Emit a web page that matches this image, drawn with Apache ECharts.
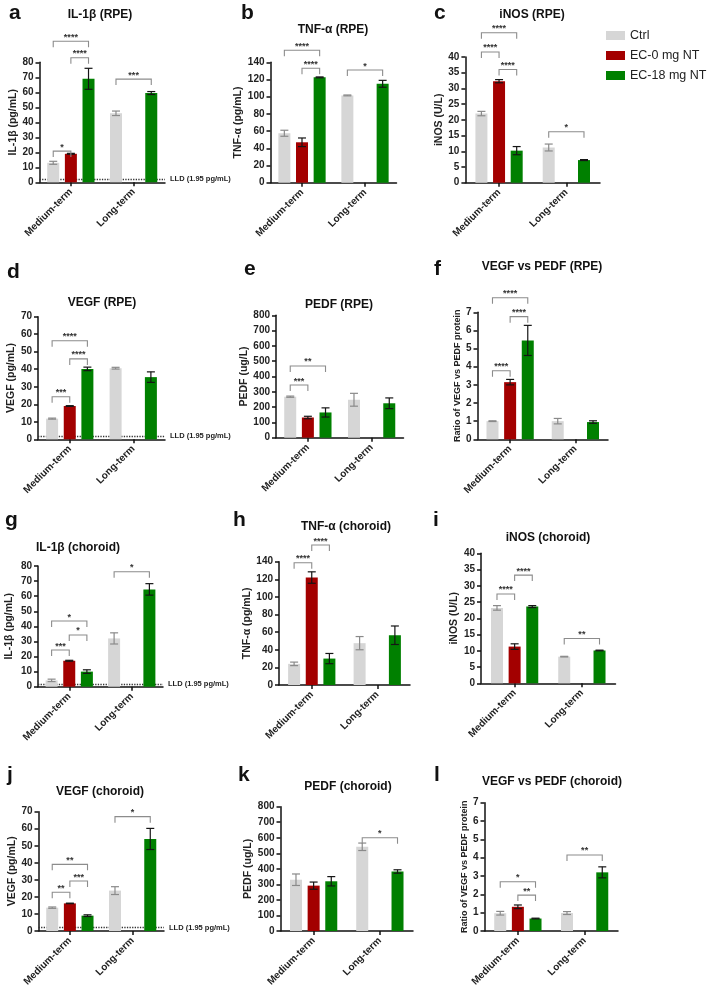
<!DOCTYPE html>
<html><head><meta charset="utf-8">
<script src="https://cdn.jsdelivr.net/npm/echarts@6/dist/echarts.min.js"></script>
<style>html,body{margin:0;padding:0;background:#fff}#c{width:709px;height:991px}</style>
</head><body><div id="c"></div>
<script>
const categories = ['Medium-term', 'Long-term'];
const groups = ['Ctrl', 'EC-0 mg NT', 'EC-18 mg NT'];
const lldValue = 1.95;
const lldLabel = 'LLD (1.95 pg/mL)';

const panelLetters = ['a','b','c','d','e','f','g','h','i','j','k','l'];
const panelTitles = ['IL-1β (RPE)','TNF-α (RPE)','iNOS (RPE)','VEGF (RPE)','PEDF (RPE)','VEGF vs PEDF (RPE)',
  'IL-1β (choroid)','TNF-α (choroid)','iNOS (choroid)','VEGF (choroid)','PEDF (choroid)','VEGF vs PEDF (choroid)'];
const yNames = ['IL-1β (pg/mL)','TNF-α (pg/mL)','iNOS (U/L)','VEGF (pg/mL)','PEDF (ug/L)','Ratio of VEGF vs PEDF protein',
  'IL-1β (pg/mL)','TNF-α (pg/mL)','iNOS (U/L)','VEGF (pg/mL)','PEDF (ug/L)','Ratio of VEGF vs PEDF protein'];
const yMax = [80, 140, 40, 70, 800, 7, 80, 140, 40, 70, 800, 7];
const yInterval = [10, 20, 5, 10, 100, 1, 10, 20, 5, 10, 100, 1];
const hasLLD = [true, false, false, true, false, false, true, false, false, true, false, false];

// means: [Ctrl, EC-0, EC-18] each [Medium, Long]
const aMean = [[13, 46], [19, null], [69, 59.5]];
const aErr  = [[1, 1.5], [0.3, null], [7, 1]];
const aSig  = [[0,0,2,94,'****'],[0,1,2,83,'****'],[0,0,1,20.8,'*'],[1,0,2,68.8,'***']];

const bMean = [[57.5, 101.5], [47, null], [122.5, 115]];
const bErr  = [[3.5, 0.5], [5, null], [0.5, 4]];
const bSig  = [[0,0,2,154,'****'],[0,1,2,133,'****'],[1,0,2,131,'*']];

const cMean = [[22, 11.2], [32.3, null], [10.2, 7.2]];
const cErr  = [[0.7, 1.1], [0.5, null], [1.3, 0.15]];
const cSig  = [[0,0,2,47.7,'****'],[0,0,1,41.6,'****'],[0,1,2,36,'****'],[1,0,2,16.2,'*']];

const dMean = [[11.8, 40.6], [19, null], [40.2, 35.5]];
const dErr  = [[0.3, 0.5], [0.2, null], [1, 3]];
const dSig  = [[0,0,2,56.3,'****'],[0,1,2,45.9,'****'],[0,0,1,24.3,'***']];

const eMean = [[268, 248], [132, null], [165, 225]];
const eErr  = [[4, 42], [8, null], [30, 35]];
const eSig  = [[0,0,2,469,'**'],[0,0,1,344,'***']];

const fMean = [[1.0, 1.0], [3.15, null], [5.45, 0.95]];
const fErr  = [[0.02, 0.15], [0.15, null], [0.83, 0.07]];
const fSig  = [[0,0,2,7.8,'****'],[0,1,2,6.76,'****'],[0,0,1,3.78,'****']];

const gMean = [[4.2, 32], [17.2, null], [10, 64.5]];
const gErr  = [[0.8, 3.7], [0.3, null], [1.2, 3.8]];
const gSig  = [[0,0,2,43.5,'*'],[0,1,2,34.3,'*'],[0,0,1,24.3,'***'],[1,0,2,76.2,'*']];

const hMean = [[24, 47.5], [122, null], [30, 56.5]];
const hErr  = [[2, 7.5], [6.5, null], [5.8, 10.5]];
const hSig  = [[0,0,1,138.8,'****'],[0,1,2,158.9,'****']];

const iMean = [[23.2, 8.2], [11.3, null], [23.6, 10.1]];
const iErr  = [[0.7, 0.1], [0.85, null], [0.3, 0.1]];
const iSig  = [[0,0,1,27.5,'****'],[0,1,2,33.3,'****'],[1,0,2,13.8,'**']];

const jMean = [[13.7, 23.7], [16.2, null], [9, 54]];
const jErr  = [[0.4, 2.3], [0.15, null], [0.5, 6.2]];
const jSig  = [[0,0,2,39.1,'**'],[0,1,2,29.3,'***'],[0,0,1,22.7,'**'],[1,0,2,67.1,'*']];

const kMean = [[330, 542], [292, null], [320, 383]];
const kErr  = [[37, 24], [23, null], [30, 11]];
const kSig  = [[1,0,2,600,'*']];

const lMean = [[0.97, 0.98], [1.32, null], [0.68, 3.2]];
const lErr  = [[0.1, 0.08], [0.1, null], [0.02, 0.3]];
const lSig  = [[0,0,2,2.69,'*'],[0,1,2,1.96,'**'],[1,0,2,4.15,'**']];

const means = [aMean,bMean,cMean,dMean,eMean,fMean,gMean,hMean,iMean,jMean,kMean,lMean];
const errs  = [aErr,bErr,cErr,dErr,eErr,fErr,gErr,hErr,iErr,jErr,kErr,lErr];
const sigs  = [aSig,bSig,cSig,dSig,eSig,fSig,gSig,hSig,iSig,jSig,kSig,lSig];

// layout: grid [left, top, right, bottom(y of 0)], title center, letter pos, name gap, name font
const layout = [
  {g:[39.5,62.3,165,182.3],  t:[100,15],  l:[9,13],   gap:15,   nf:10.5},
  {g:[270.5,62.3,396.5,182.7], t:[333,30], l:[241,13], gap:23.5, nf:10.5},
  {g:[465.4,57,600,182.7],   t:[532,15],  l:[434,13], gap:18,   nf:10.5},
  {g:[38,316.7,165,439.3],   t:[102,303], l:[7,272],  gap:19,   nf:10.5},
  {g:[276,315.3,403.5,437.7], t:[339,305], l:[244,269], gap:23, nf:10.5},
  {g:[477.5,312.3,608,439.3], t:[542,267], l:[434,269], gap:12.5, nf:9},
  {g:[38,566,163,686.7],     t:[78,548],  l:[5,520],  gap:23,   nf:10.5},
  {g:[279,561.7,410,685],    t:[346,527], l:[233,520], gap:21,  nf:10.5},
  {g:[481,553.3,615.5,683.3], t:[548,538], l:[433,520], gap:19,  nf:10.5},
  {g:[38.5,811.7,164,931],   t:[100,792], l:[7,775],  gap:16.5, nf:10.5},
  {g:[280.5,806.7,413,931],  t:[348,787], l:[238,775], gap:20.5, nf:10.5},
  {g:[484.5,802.7,618,931],  t:[552,782], l:[434,775], gap:14.5, nf:9}
];

const colors = ['#d6d6d6', '#a30000', '#008000'];
const errColors = ['#8a8a8a', '#151515', '#151515'];
const FONT = '"Liberation Sans", Arial, sans-serif';
const BAR_W = 12, BAR_GAP = 0.47, STEP = BAR_W * (1 + BAR_GAP);

function errRender(params, api) {
  const cat = api.value(0), k = api.value(1), m = api.value(2), e = api.value(3);
  const x = api.coord([cat, m])[0] + (k - 1) * STEP;
  const yt = api.coord([cat, m + e])[1], yb = api.coord([cat, m - e])[1];
  const st = {stroke: errColors[k], lineWidth: 1.2};
  return {type: 'group', children: [
    {type: 'line', shape: {x1: x, y1: yt, x2: x, y2: yb}, style: st},
    {type: 'line', shape: {x1: x - 4, y1: yt, x2: x + 4, y2: yt}, style: st},
    {type: 'line', shape: {x1: x - 4, y1: yb, x2: x + 4, y2: yb}, style: st}
  ]};
}
function makeSigRender(sig) {
  return function (params, api) {
    const cat = api.value(0), k1 = api.value(1), k2 = api.value(2), y = api.value(3);
    const p = api.coord([cat, y]);
    const x1 = p[0] + (k1 - 1) * STEP, x2 = p[0] + (k2 - 1) * STEP, yy = p[1];
    return {type: 'group', children: [
      {type: 'polyline', shape: {points: [[x1, yy + 6], [x1, yy], [x2, yy], [x2, yy + 6]]},
        style: {stroke: '#8c8c8c', lineWidth: 1.1, fill: null}},
      {type: 'text', x: (x1 + x2) / 2, y: yy - 4,
        style: {text: sig[params.dataIndex][4], align: 'center', verticalAlign: 'middle',
          fontSize: 9, fontWeight: 'bold', fontFamily: FONT, fill: '#333'}}
    ]};
  };
}

const grids = [], xAxes = [], yAxes = [], series = [], graphics = [];
for (let p = 0; p < 12; p++) {
  const L = layout[p];
  grids.push({left: L.g[0], top: L.g[1], width: L.g[2] - L.g[0], height: L.g[3] - L.g[1], containLabel: false});
  const axLine = {show: true, lineStyle: {color: '#111', width: 1.5}};
  xAxes.push({type: 'category', gridIndex: p, data: categories, boundaryGap: true,
    axisLine: axLine, axisTick: {show: true, alignWithLabel: true, length: 4, lineStyle: {color: '#111', width: 1.5}},
    axisLabel: {rotate: 45, interval: 0, margin: 8, fontSize: 10, fontWeight: 'bold', color: '#222', fontFamily: FONT},
    splitLine: {show: false}});
  yAxes.push({type: 'value', gridIndex: p, min: 0, max: yMax[p], interval: yInterval[p],
    axisLine: axLine, axisTick: {show: true, length: 4, lineStyle: {color: '#111', width: 1.5}},
    axisLabel: {margin: 6, fontSize: 10, fontWeight: 'bold', color: '#222', fontFamily: FONT},
    splitLine: {show: false},
    name: yNames[p], nameLocation: 'middle', nameGap: L.gap, nameRotate: 90,
    nameTextStyle: {fontSize: L.nf, fontWeight: 'bold', color: '#222', fontFamily: FONT}});
  for (let k = 0; k < 3; k++) {
    const s = {type: 'bar', name: groups[k], xAxisIndex: p, yAxisIndex: p, data: means[p][k],
      barWidth: BAR_W, barGap: (BAR_GAP * 100) + '%', itemStyle: {color: colors[k]}, z: 2, silent: true};
    if (k === 0 && hasLLD[p]) {
      s.markLine = {silent: true, symbol: 'none', z: 1,
        lineStyle: {type: 'dotted', color: '#333', width: 1.3},
        label: {position: 'end', formatter: lldLabel, fontSize: 7.5, fontWeight: 'bold', color: '#222', fontFamily: FONT, distance: 5},
        data: [{yAxis: lldValue}]};
    }
    series.push(s);
  }
  const errData = [];
  for (let k = 0; k < 3; k++) for (let c = 0; c < 2; c++) {
    if (means[p][k][c] != null) errData.push([c, k, means[p][k][c], errs[p][k][c]]);
  }
  series.push({type: 'custom', xAxisIndex: p, yAxisIndex: p, renderItem: errRender, data: errData,
    encode: {x: 0, y: 2}, z: 3, silent: true, clip: false});
  series.push({type: 'custom', xAxisIndex: p, yAxisIndex: p, renderItem: makeSigRender(sigs[p]),
    data: sigs[p].map(s => [s[0], s[1], s[2], s[3]]), encode: {x: 0, y: 3}, z: 3, silent: true, clip: false});
  graphics.push({type: 'text', x: L.t[0], y: L.t[1], style: {text: panelTitles[p], align: 'center', verticalAlign: 'middle',
    fontSize: 12, fontWeight: 'bold', fontFamily: FONT, fill: '#111'}});
  graphics.push({type: 'text', x: L.l[0], y: L.l[1], style: {text: panelLetters[p], align: 'left', verticalAlign: 'middle',
    fontSize: 21, fontWeight: 'bold', fontFamily: FONT, fill: '#111'}});
}

const chart = echarts.init(document.getElementById('c'), null, {renderer: 'canvas'});
chart.setOption({
  backgroundColor: '#fff',
  animation: false,
  grid: grids, xAxis: xAxes, yAxis: yAxes, series: series,
  legend: {data: groups, orient: 'vertical', left: 601, top: 24, itemWidth: 19, itemHeight: 9, itemGap: 7,
    icon: 'rect', selectedMode: false,
    textStyle: {fontSize: 12.5, color: '#222', fontFamily: FONT}},
  graphic: graphics
});
</script></body></html>
